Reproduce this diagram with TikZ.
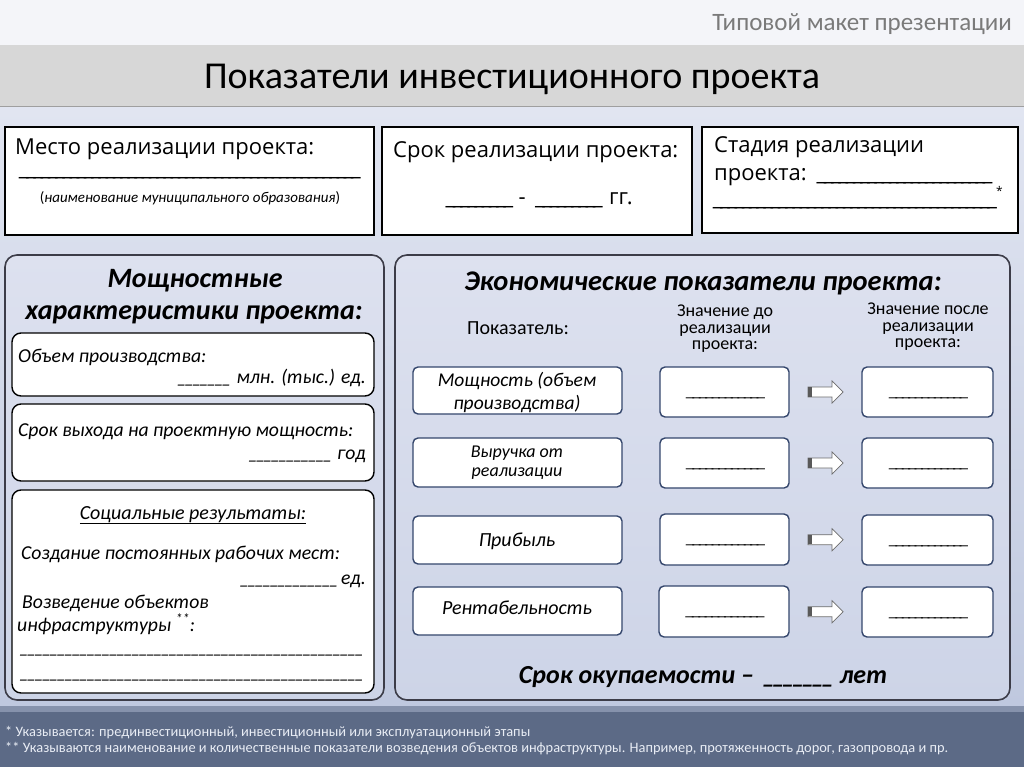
\documentclass[tikz,border=0pt]{standalone}
\usepackage{fontspec}
\setmainfont{Carlito}
\newfontfamily\osans{Open Sans}
\usetikzlibrary{fit,calc}
\definecolor{bgtop}{HTML}{F4F5F9}
\definecolor{titleband}{HTML}{D7D7D7}
\definecolor{lavA}{HTML}{E1E5F1}
\definecolor{lavB}{HTML}{BFC8DF}
\definecolor{panelA}{HTML}{DDE1EF}
\definecolor{panelB}{HTML}{CDD4E7}
\definecolor{panelborder}{HTML}{3C3C48}
\definecolor{boxborder}{HTML}{34466C}
\definecolor{footdark}{HTML}{5C6A86}
\definecolor{footmid}{HTML}{8692AC}
\definecolor{foottext}{HTML}{E9EDF5}
\definecolor{headgray}{HTML}{7A7A7A}
\newcommand\fsz[2]{\fontsize{#1pt}{#2pt}\selectfont}
\newcommand\blank[1]{\leavevmode\cleaders\hbox{\_\kern-0.12em}\hskip#1pt\relax\hbox{}}
\begin{document}
\begin{tikzpicture}[x=1pt,y=-1pt,
 txt/.style={inner sep=0pt, anchor=base west},
 txtc/.style={inner sep=0pt, anchor=base},
 txte/.style={inner sep=0pt, anchor=base east},
 topbox/.style={draw=black, line width=1.8pt, fill=white, inner sep=0pt},
 panel/.style={draw=panelborder, line width=1.6pt, rounded corners=12pt, top color=panelA, bottom color=panelB, inner sep=0pt},
 wbox/.style={draw=black, line width=1.4pt, rounded corners=9pt, fill=white, inner sep=0pt},
 ibox/.style={draw=boxborder, line width=1.4pt, rounded corners=5pt, fill=white, inner sep=0pt},
 blockarrow/.style={fill=white, draw=gray!85!black, line width=0.7pt},
 ]
\useasboundingbox (0,0) rectangle (1024,767);
% backgrounds
\fill[bgtop] (0,0) rectangle (1024,45);
\fill[titleband] (0,45) rectangle (1024,107);
\draw[gray!75, line width=1.5pt] (0,107) -- (1024,107);
\shade[top color=lavA, bottom color=lavB] (0,108) rectangle (1024,706);
\fill[footmid] (0,706) rectangle (1024,712);
\fill[footdark] (0,712) rectangle (1024,767);

% header
\node[txte, text=headgray] (hdr) at (1012,31) {\fsz{25}{28}Типовой макет презентации};
\node[txtc] (title) at (512,89) {\fsz{38}{42}Показатели инвестиционного проекта};

% top boxes
\node[topbox, fit={(5,127) (374,235)}] (tb1) {};
\node[topbox, fit={(382,127) (692,235)}] (tb2) {};
\node[topbox, fit={(702,127) (1018,233)}] (tb3) {};

\node[txt] (t1a) at (15,155) {\osans\fsz{22}{26}Место реализации проекта:};
\node[txt] (t1b) at (17,176) {\osans\fsz{22}{26}\blank{343}};
\node[txtc] (t1c) at (190,203) {\fsz{15}{17}(\textit{наименование муниципального образования})};

\node[txt] (t2a) at (393,158) {\osans\fsz{22}{26}Срок реализации проекта:};
\node[txtc] (t2b) at (538,205) {\osans\fsz{22}{26}\blank{70} - \blank{72} гг.};

\node[txt] (t3a) at (714,153) {\osans\fsz{22}{26}Стадия реализации};
\node[txt] (t3b) at (714,181) {\osans\fsz{22}{26}проекта: \blank{178}};
\node[txt] (t3c) at (712,206) {\osans\fsz{22}{26}\blank{283}};
\node[txt] (t3d) at (996,196) {\osans\fsz{12}{14}*};

% left panel
\node[panel, fit={(5,255) (384,700)}] (lp) {};
\node[txtc] (lpt1) at (195,287) {\fsz{28}{32}\bfseries\itshape Мощностные};
\node[txtc] (lpt2) at (194,319) {\fsz{28}{32}\bfseries\itshape характеристики проекта:};

\node[wbox, fit={(12,333) (374,396)}] (la) {};
\node[txt] (laa) at (18,362) {\fsz{19.7}{24}\itshape Объем производства:};
\node[txte] (lab) at (366,383) {\fsz{19.7}{24}\itshape \blank{58} млн. (тыс.) ед.};

\node[wbox, fit={(12,404) (374,481)}] (lb) {};
\node[txt] (lba) at (18,436) {\fsz{19.7}{24}\itshape Срок выхода на проектную мощность:};
\node[txte] (lbb) at (366,459) {\fsz{19.7}{24}\itshape \blank{87} год};

\node[wbox, fit={(12,490) (374,693)}] (lc) {};
\node[txtc] (lca) at (193,519) {\fsz{20}{22}\itshape\underline{Социальные результаты:}};
\node[txt] (lcb) at (21,559) {\fsz{19.7}{24}\itshape Создание постоянных рабочих мест:};
\node[txte] (lcc) at (366,584) {\fsz{19.7}{24}\itshape \blank{97} ед.};
\node[txt] (lcd) at (22,608) {\fsz{19.7}{24}\itshape Возведение объектов};
\node[txt] (lce) at (17,631) {\fsz{19.7}{24}\itshape инфраструктуры \textsuperscript{**}:};
\node[txt] (lcf) at (17,653) {\fsz{19.7}{24}\itshape \blank{347}};
\node[txt] (lcg) at (17,678) {\fsz{19.7}{24}\itshape \blank{347}};

% right panel
\node[panel, fit={(395,255) (1010,700)}] (rp) {};
\node[txtc] (rpt) at (703,290) {\fsz{28.5}{32}\bfseries\itshape Экономические показатели проекта:};
\node[txtc] (h1) at (518,334) {\fsz{20}{22}Показатель:};
\node[anchor=north, inner sep=0pt, align=center, font=\fsz{18}{16.5}] (h2) at (725,305) {Значение до\\реализации\\проекта:};
\node[anchor=north, inner sep=0pt, align=center, font=\fsz{18}{16.5}] (h3) at (928,303) {Значение после\\реализации\\проекта:};

% rows: indicator boxes
\node[ibox, fit={(413,367) (622,414)}] (i1) {};
\node[ibox, fit={(413,438) (622,487)}] (i2) {};
\node[ibox, fit={(413,516) (622,564)}] (i3) {};
\node[ibox, fit={(413,587) (622,635)}] (i4) {};
\node[txtc] (i1a) at (517,386) {\fsz{19.5}{22}\itshape Мощность (объем};
\node[txtc] (i1b) at (517,409) {\fsz{19.5}{22}\itshape производства)};
\node[txtc] (i2a) at (517,457) {\fsz{18}{20}\itshape Выручка от};
\node[txtc] (i2b) at (517,476) {\fsz{18}{20}\itshape реализации};
\node[txtc] (i3a) at (517,546) {\fsz{20}{22}\itshape Прибыль};
\node[txtc] (i4a) at (517,614) {\fsz{20}{22}\itshape Рентабельность};

% before boxes
\node[ibox, fit={(660,367) (789,417)}] (b1) {};
\node[ibox, fit={(660,438) (789,488)}] (b2) {};
\node[ibox, fit={(660,514) (789,565)}] (b3) {};
\node[ibox, fit={(659,586) (789,637)}] (b4) {};
% after boxes
\node[ibox, fit={(862,367) (993,417)}] (a1) {};
\node[ibox, fit={(862,438) (993,488)}] (a2) {};
\node[ibox, fit={(862,515) (993,565)}] (a3) {};
\node[ibox, fit={(862,587) (993,637)}] (a4) {};

\foreach \n in {1,2,3,4}{
  \node[txtc] (bv\n) at ($(b\n.center)+(0,4)$) {\fsz{17}{20}\blank{80}};
  \node[txtc] (av\n) at ($(a\n.center)+(0,4)$) {\fsz{17}{20}\blank{78}};
  \coordinate (ar\n) at ($(b\n.east)!0.5!(a\n.west)$);
  \begin{scope}[shift={(ar\n)}]
    \draw[blockarrow] (-17.5,-5) -- (6.5,-5) -- (6.5,-11) -- (17.5,0) -- (6.5,11) -- (6.5,5) -- (-17.5,5) -- cycle;
    \fill[gray!70!black] (-17.2,-4.6) rectangle (-13.5,4.6);
  \end{scope}
}

\node[txtc] (payback) at (703,683) {\fsz{26}{30}\bfseries\itshape Срок окупаемости – \blank{74} лет};

% footnotes
\node[txt, text=foottext] (fn1) at (5,736) {\fsz{14.4}{16}* Указывается: прединвестиционный, инвестиционный или эксплуатационный этапы};
\node[txt, text=foottext] (fn2) at (5,752) {\fsz{14.4}{16}** Указываются наименование и количественные показатели возведения объектов инфраструктуры. Например, протяженность дорог, газопровода и пр.};
\end{tikzpicture}
\end{document}
